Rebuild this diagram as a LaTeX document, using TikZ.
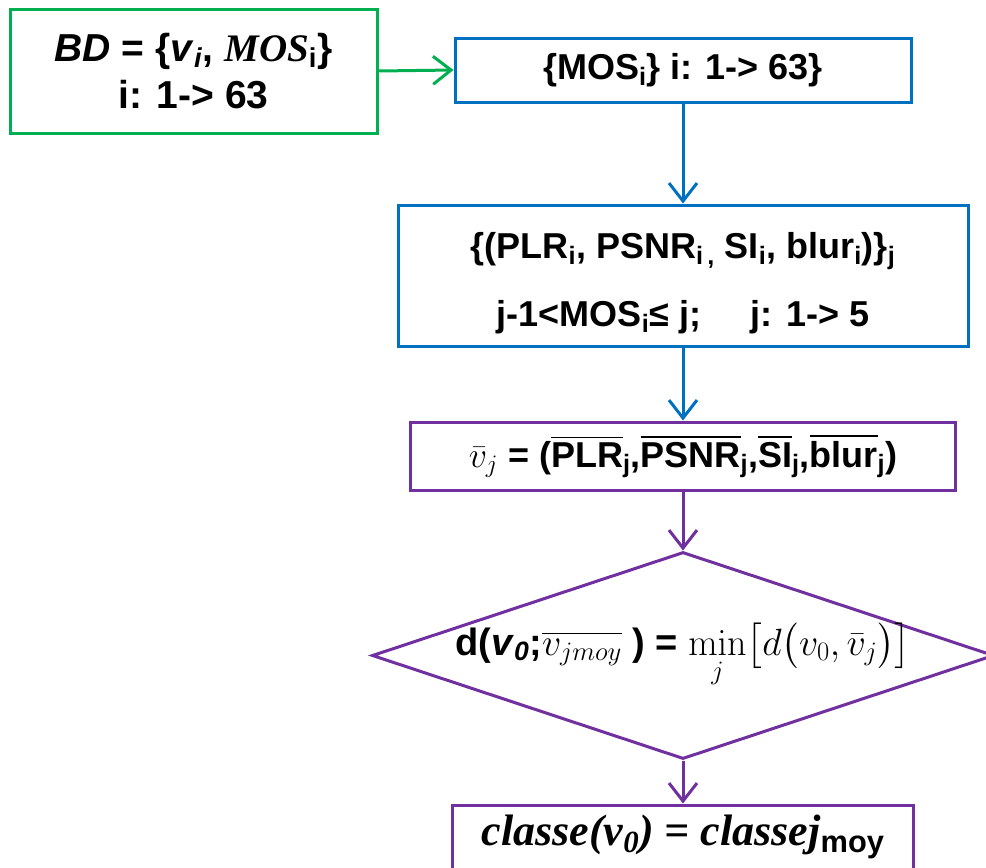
\RequirePackage{fix-cm}
\documentclass[tikz,border=0pt]{standalone}
\usepackage{amsmath,amssymb}
\usepackage[no-math]{fontspec}
\setmainfont{Liberation Sans}
\newfontfamily\serifbi{Liberation Serif}
\usetikzlibrary{arrows.meta,shapes.geometric}

\definecolor{cgreen}{RGB}{0,176,80}
\definecolor{cblue}{RGB}{0,112,192}
\definecolor{cpurple}{RGB}{112,48,160}

\newcommand{\heavyit}[1]{{\serifbi\bfseries\itshape #1}}

\tikzset{
  box/.style={draw, line width=3pt, fill=white, inner sep=0pt, align=center,
              font=\fontsize{36}{44}\selectfont\bfseries},
  link/.style={line width=3pt, -{Straight Barb[length=18pt,width=28pt,line width=3pt]}},
}

\begin{document}
\begin{tikzpicture}[x=1pt,y=-1pt]
\useasboundingbox (0,0) rectangle (986,868);

\node[box, draw=cgreen, minimum width=367pt, minimum height=124pt,
      font=\fontsize{39}{47}\selectfont\bfseries] (bd) at (193.5,71)
  {\textit{BD} = \{\textit{v}\textsubscript{\textit{i}}, \heavyit{MOS}\textsubscript{i}\}\\ i: 1-{}> 63};

\node[box, draw=cblue, minimum width=456pt, minimum height=64pt] (mos) at (683,70)
  {\{MOS\textsubscript{i}\} i: 1-{}> 63\}};

\node[box, draw=cblue, minimum width=570pt, minimum height=141pt,
      font=\fontsize{36}{70}\selectfont\bfseries] (grp) at (683,275.5)
  {\rule{0pt}{42pt}\{(PLR\textsubscript{i}, PSNR\textsubscript{i\,,} SI\textsubscript{i}, blur\textsubscript{i})\}\textsubscript{j}\\[-2pt]
   j-1<MOS\textsubscript{i}≤ j;\hspace{1.1em} j: 1-{}> 5};

\node[box, draw=cpurple, minimum width=545pt, minimum height=68pt] (avg) at (683,456)
  {$\bar{v}_j$ = ($\overline{\text{PLR}}$\textsubscript{j},$\overline{\text{PSNR}}$\textsubscript{j},$\overline{\text{SI}}$\textsubscript{j},$\overline{\text{blur}}$\textsubscript{j})};

\node[diamond, draw=cpurple, line width=3pt, fill=white, inner sep=0pt,
      minimum width=622pt, minimum height=207pt, aspect=3] (dec) at (683,655.5) {};
\node[font=\fontsize{38}{44}\selectfont\bfseries] (dtxt) at (dec.center)
  {d(\textit{v}\textsubscript{\textit{0}};$\overline{v_{jmoy}}$ ) = $\min\limits_j\bigl[d\bigl(v_0,\bar{v}_j\bigr)\bigr]$};

\node[box, draw=cpurple, minimum width=461pt, minimum height=64pt,
      font=\fontsize{44}{48}\selectfont\bfseries] (cls) at (683,837)
  {\heavyit{classe(v\textsubscript{0}) = classej}\textsubscript{moy}};

\draw[link, cgreen] (bd.east) -- (mos.west);
\draw[link, cblue] (mos.south) -- (grp.north);
\draw[link, cblue] (grp.south) -- (avg.north);
\draw[link, cpurple] (avg.south) -- (dec.north);
\draw[link, cpurple] (dec.south) -- (cls.north);
\end{tikzpicture}
\end{document}
